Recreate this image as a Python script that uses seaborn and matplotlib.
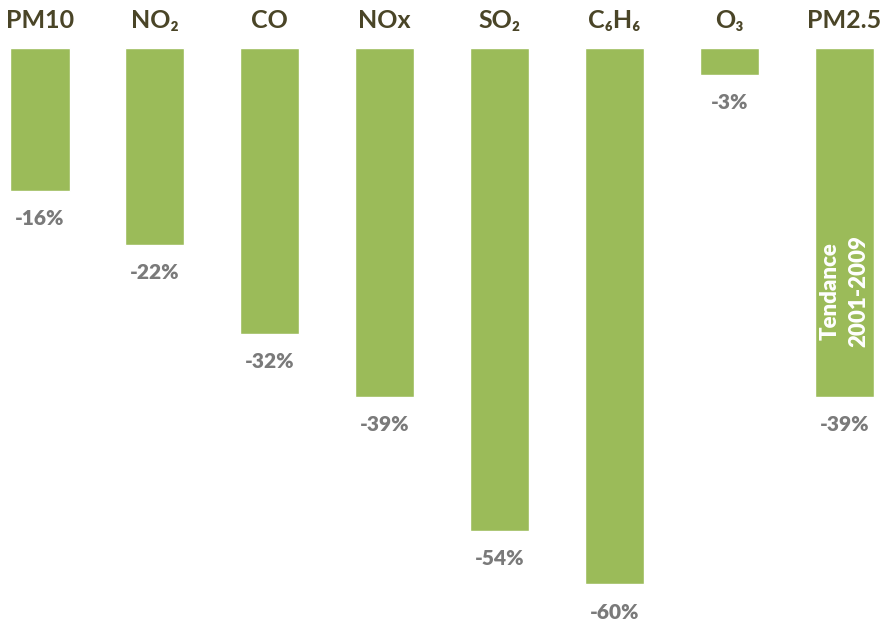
import matplotlib
matplotlib.use("Agg")
import matplotlib.pyplot as plt
import seaborn as sns
import pandas as pd

# Pollutant trends 2001-2009 (percentage change)
pollutants = ["PM10", "NO₂", "CO", "NOx", "SO₂", "C₆H₆", "O₃", "PM2.5"]
changes = [-16, -22, -32, -39, -54, -60, -3, -39]
value_labels = ["-16%", "-22%", "-32%", "-39%", "-54%", "-60%", "-3%", "-39%"]

BAR = "#9BBB59"
HEAD = "#4A4527"
VAL = "#7A7A7A"
FONTS = ["Lato", "DejaVu Sans"]

sns.set_theme(style="white")
plt.rcParams["font.family"] = FONTS

df = pd.DataFrame({"pollutant": pollutants, "change": changes})

fig = plt.figure(figsize=(8.85, 6.22), dpi=100)
ax = fig.add_axes([0, 0, 1, 1])
sns.barplot(data=df, x="pollutant", y="change", color=BAR, saturation=1,
            width=0.515, ax=ax)

ax.set_xlim(-0.348, 7.354)
ax.set_ylim(-64.2, 5.37)
ax.axis("off")

for i, (name, v, lab) in enumerate(zip(pollutants, changes, value_labels)):
    ax.text(i, 3.13, name, ha="center", va="center", fontsize=18,
            fontweight="bold", color=HEAD, family=FONTS)
    ax.text(i, v - 3.1, lab, ha="center", va="center", fontsize=15,
            fontweight="heavy", color=VAL, family=FONTS)

# Period annotation inside the last bar
ax.text(7, -27.2, "Tendance\n2001-2009", ha="center", va="center",
        rotation=90, fontsize=16, fontweight="heavy", color="white",
        linespacing=1.45, family=FONTS)

fig.savefig("out.png", dpi=100)
